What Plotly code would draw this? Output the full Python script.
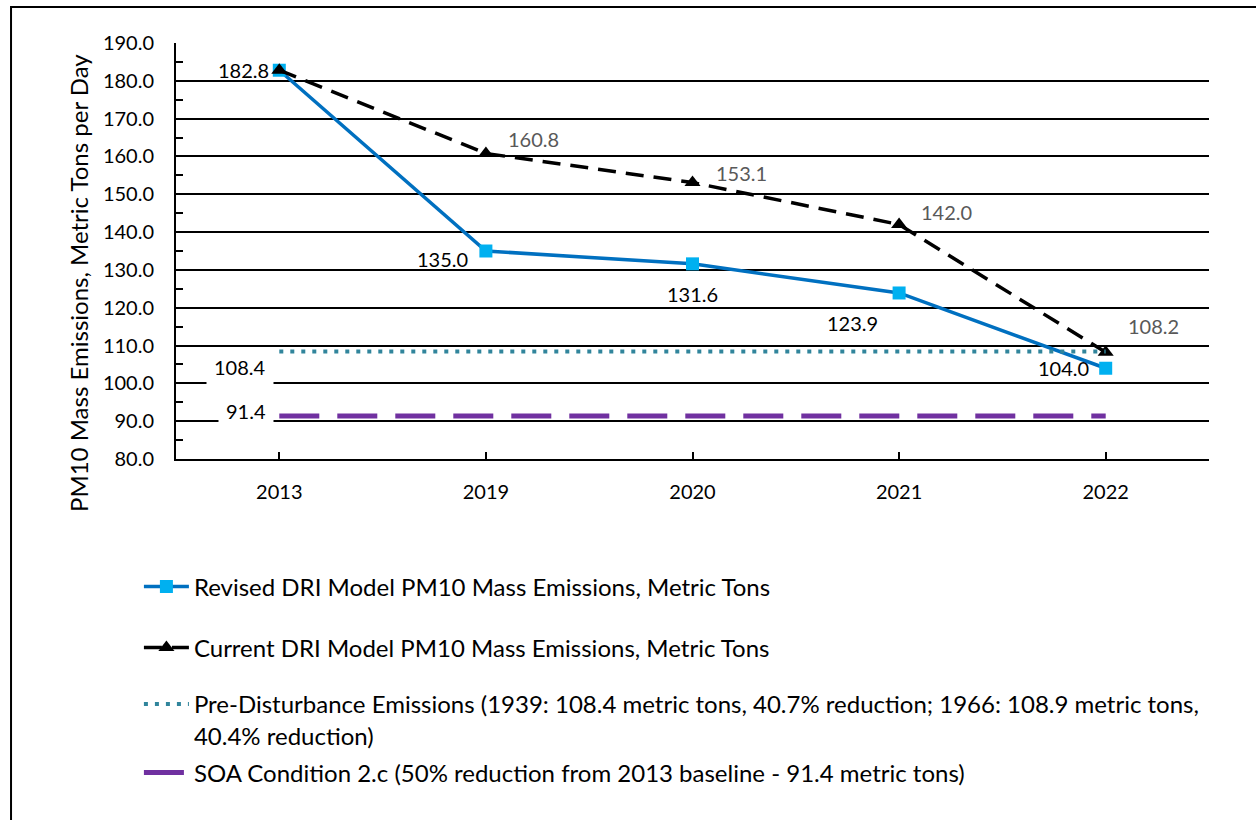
import plotly.graph_objects as go

# PM10 mass emissions by year (metric tons per day)
years = ["2013", "2019", "2020", "2021", "2022"]
revised = [182.8, 135.0, 131.6, 123.9, 104.0]
current = [182.8, 160.8, 153.1, 142.0, 108.2]
pre_disturbance = 108.4
soa_target = 91.4

name_revised = "Revised DRI Model PM10 Mass Emissions, Metric Tons"
name_current = "Current DRI Model PM10 Mass Emissions, Metric Tons"
name_pre = ("Pre-Disturbance Emissions (1939: 108.4 metric tons, 40.7% reduction; "
            "1966: 108.9 metric tons,<br>40.4% reduction)")
name_soa = "SOA Condition 2.c (50% reduction from 2013 baseline - 91.4 metric tons)"

FONT = "Lato, Carlito, Calibri, sans-serif"
FS = 20      # numbers: tick labels and value labels
FS_TXT = 24  # legend and axis title

# label offsets in pixels (dx, dy) for each point's value label
revised_offsets = [(-36, 0), (-43, -8), (0, -30), (-47, -30), (-42, 0)]
current_offsets = [None, (48, 14), (49, 10), (47, 13), (48, 26)]

fig = go.Figure()

fig.add_trace(go.Scatter(
    x=years, y=revised, name=name_revised, mode="lines+markers",
    line=dict(color="#0070C0", width=3.5),
    marker=dict(symbol="square", size=13, color="#00B0F0"),
    legend="legend2",
))
fig.add_trace(go.Scatter(
    x=years, y=current, name=name_current, mode="lines+markers",
    line=dict(color="black", width=3.5, dash="18px,10px"),
    marker=dict(symbol="triangle-up", size=14, color="black"),
    legend="legend3",
))
fig.add_trace(go.Scatter(
    x=years, y=[pre_disturbance] * len(years), name=name_pre, mode="lines",
    line=dict(color="#31859C", width=4, dash="4px,7px"),
    legend="legend4",
))
fig.add_trace(go.Scatter(
    x=years, y=[soa_target] * len(years), name=name_soa, mode="lines",
    line=dict(color="#7030A0", width=5, dash="40px,18px"),
    legend="legend5",
))

# value labels (category axis positions are given by index)
annotations = []
for i, (v, off) in enumerate(zip(revised, revised_offsets)):
    annotations.append(dict(x=i, y=v, xref="x", yref="y", text=f"{v:.1f}",
                            showarrow=False, xshift=off[0], yshift=off[1],
                            font=dict(family=FONT, size=FS, color="black")))
for i, (v, off) in enumerate(zip(current, current_offsets)):
    if off is None:
        continue
    annotations.append(dict(x=i, y=v, xref="x", yref="y", text=f"{v:.1f}",
                            showarrow=False, xshift=off[0], yshift=off[1],
                            font=dict(family=FONT, size=FS, color="#595959")))
annotations.append(dict(x=0, y=pre_disturbance, xref="x", yref="y",
                        text=f"{pre_disturbance:.1f}", showarrow=False,
                        xshift=-39, yshift=-15, bgcolor="white", borderpad=7,
                        font=dict(family=FONT, size=FS, color="black")))
annotations.append(dict(x=0, y=soa_target, xref="x", yref="y",
                        text=f"{soa_target:.1f}", showarrow=False,
                        xshift=-33, yshift=5, bgcolor="white", borderpad=7,
                        font=dict(family=FONT, size=FS, color="black")))
annotations.append(dict(x=-0.0949, y=0.423, xref="paper", yref="paper",
                        text="PM10 Mass Emissions, Metric Tons per Day",
                        textangle=-90, showarrow=False, xanchor="center",
                        yanchor="middle",
                        font=dict(family=FONT, size=FS_TXT, color="black")))

legend_style = dict(xref="container", yref="container", x=0.1106, xanchor="left",
                    yanchor="middle", bgcolor="rgba(0,0,0,0)", itemwidth=45,
                    font=dict(family=FONT, size=FS_TXT, color="black"), valign="top")

fig.update_layout(
    width=1256, height=820,
    margin=dict(l=176, r=47, t=43, b=361, autoexpand=False),
    paper_bgcolor="white", plot_bgcolor="white",
    font=dict(family=FONT, size=FS, color="black"),
    annotations=annotations,
    legend2=dict(legend_style, y=1 - 587 / 820),
    legend3=dict(legend_style, y=1 - 648 / 820),
    legend4=dict(legend_style, y=1 - 720 / 820),
    legend5=dict(legend_style, y=1 - 773 / 820),
    shapes=[dict(type="rect", xref="paper", yref="paper",
                 x0=-0.1597, x1=1.1, y0=-1.0, y1=1.0865,
                 line=dict(color="black", width=2), layer="below")],
)

fig.update_xaxes(
    type="category", range=[-0.5, 4.5], showgrid=False,
    showline=True, linecolor="black", linewidth=2,
    ticks="inside", ticklen=7, tickcolor="black", tickwidth=1.5,
    ticklabelstandoff=14, tickfont=dict(family=FONT, size=FS, color="black"),
)
fig.update_yaxes(
    range=[80, 190], dtick=10, tickformat=".1f",
    showgrid=True, gridcolor="black", gridwidth=1.8, zeroline=False,
    showline=True, linecolor="black", linewidth=2,
    ticks="inside", ticklen=7, tickcolor="black", tickwidth=1.5,
    minor=dict(dtick=5, ticks="inside", ticklen=7, tickcolor="black",
               tickwidth=1.5, showgrid=False),
    ticklabelstandoff=16, tickfont=dict(family=FONT, size=FS, color="black"),
)

fig.write_html("out.html")
